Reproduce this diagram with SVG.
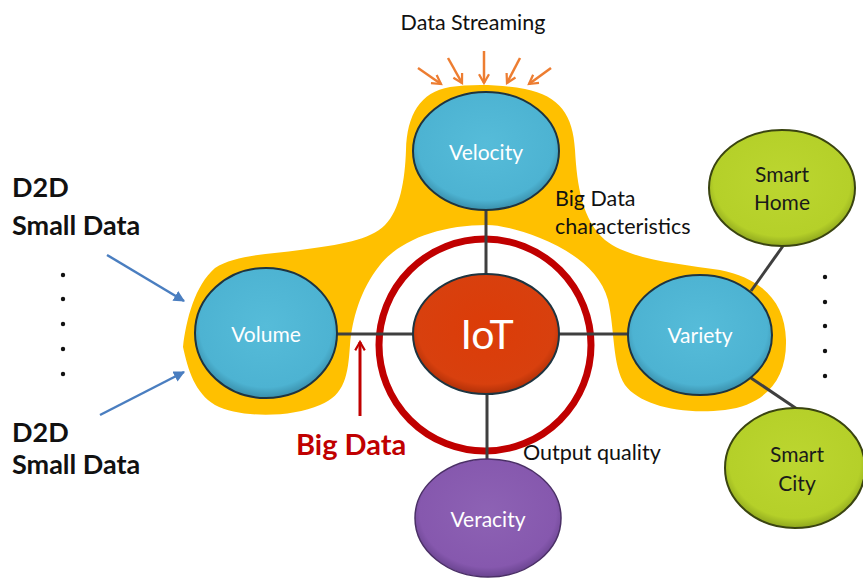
<svg xmlns="http://www.w3.org/2000/svg" width="863" height="578" viewBox="0 0 863 578">
<defs>
<radialGradient id="gBlue" cx="50%" cy="45%" r="55%">
<stop offset="0" stop-color="#56BCD9"/><stop offset="0.85" stop-color="#4DB3D2"/><stop offset="1" stop-color="#3A8FAB"/>
</radialGradient>
<radialGradient id="gRed" cx="50%" cy="45%" r="55%">
<stop offset="0" stop-color="#DC3C08"/><stop offset="0.85" stop-color="#D8400E"/><stop offset="1" stop-color="#B03008"/>
</radialGradient>
<radialGradient id="gGreen" cx="50%" cy="45%" r="55%">
<stop offset="0" stop-color="#BCD630"/><stop offset="0.85" stop-color="#B5D029"/><stop offset="1" stop-color="#8FA71E"/>
</radialGradient>
<radialGradient id="gPurple" cx="50%" cy="45%" r="55%">
<stop offset="0" stop-color="#8D62B4"/><stop offset="0.85" stop-color="#8658AE"/><stop offset="1" stop-color="#6A4490"/>
</radialGradient>
<marker id="aOr" viewBox="0 0 10 10" refX="8" refY="5" markerWidth="5" markerHeight="5" orient="auto"><path d="M1,1 L8,5 L1,9" fill="none" stroke="#ED7D31" stroke-width="1.8"/></marker>
<marker id="aBl" viewBox="0 0 10 10" refX="9" refY="5" markerWidth="4.5" markerHeight="4.5" orient="auto"><path d="M0,0 L10,5 L0,10 Z" fill="#4A7EC0"/></marker>
<marker id="aRd" viewBox="0 0 10 10" refX="8" refY="5" markerWidth="4" markerHeight="4" orient="auto"><path d="M1,1 L8,5 L1,9" fill="none" stroke="#C00000" stroke-width="1.8"/></marker>
</defs>
<style>
.node{stroke:#1E3440;stroke-width:2}
.lbl{font-family:Lato,"Open Sans",sans-serif;font-size:21px;fill:#FFFFFF;text-anchor:middle}
.dk{fill:#1A1A1A}
.t{font-family:Lato,"Open Sans",sans-serif;font-size:21.5px;fill:#111111}
.b{font-family:Lato,"Open Sans",sans-serif;font-size:27px;font-weight:bold;fill:#111111}
.con{stroke:#3F3F3F;stroke-width:3;fill:none}
.dot{fill:#111111}
</style>
<rect width="863" height="578" fill="#FFFFFF"/>
<path id="blob" fill="#FFC000" d="M183,347 C186,320 195,285 215,268 C235,255 270,254 300,250 C340,245 370,240 385,225 C400,210 405,180 406,150 C407,115 420,92 450,87 C470,84 500,84 525,89 C560,96 573,115 575,150 C577,185 582,220 605,240 C630,260 680,264 720,270 C760,278 785,300 786,340 C787,380 765,405 725,410 C680,415 640,405 625,385 C612,365 615,330 608,300 C600,270 570,250 540,238 C520,230 500,225 487,225 C440,225 400,240 380,265 C360,290 352,320 350,345 C348,375 345,395 320,405 C290,418 240,418 215,405 C195,393 188,370 183,347 Z"/>
<circle id="ring" cx="485" cy="345" r="106" fill="none" stroke="#C00000" stroke-width="7"/>
<g id="connectors">
<line class="con" x1="486" y1="210" x2="486" y2="275"/>
<line class="con" x1="487" y1="393" x2="487" y2="460"/>
<line class="con" x1="337" y1="334" x2="414" y2="334"/>
<line class="con" x1="558" y1="334" x2="628" y2="334"/>
<line class="con" x1="751" y1="291" x2="783" y2="246"/>
<line class="con" x1="751" y1="378" x2="797" y2="409"/>
</g>
<g id="streaming">
<text class="t" x="473" y="30" text-anchor="middle">Data Streaming</text>
<g stroke="#ED7D31" stroke-width="2.5" marker-end="url(#aOr)">
<line x1="418" y1="68" x2="441" y2="84"/>
<line x1="448" y1="58" x2="462" y2="83"/>
<line x1="484" y1="51" x2="484" y2="83"/>
<line x1="520" y1="58" x2="507" y2="83"/>
<line x1="551" y1="68" x2="529" y2="84"/>
</g>
</g>
<g id="velocity"><ellipse class="node" cx="486" cy="151" rx="73" ry="59" fill="url(#gBlue)"/><text class="lbl" x="486" y="160">Velocity</text></g>
<g id="volume"><ellipse class="node" cx="266" cy="333" rx="71" ry="65" fill="url(#gBlue)"/><text class="lbl" x="266" y="342">Volume</text></g>
<g id="iot"><ellipse class="node" cx="486" cy="334" rx="73" ry="60" fill="url(#gRed)"/><text class="lbl" x="487" y="349" style="font-size:41px">IoT</text></g>
<g id="variety"><ellipse class="node" cx="700" cy="335" rx="72" ry="60" fill="url(#gBlue)"/><text class="lbl" x="700" y="343">Variety</text></g>
<g id="veracity"><ellipse class="node" cx="488" cy="518" rx="73" ry="59" fill="url(#gPurple)" style="stroke:#4A2F66;stroke-width:1.5"/><text class="lbl" x="488" y="527">Veracity</text></g>
<g id="smarthome"><ellipse class="node" cx="782" cy="188" rx="73" ry="58" fill="url(#gGreen)" style="stroke:#3A4410"/><text class="lbl dk" x="782" y="182">Smart</text><text class="lbl dk" x="782" y="210">Home</text></g>
<g id="smartcity"><ellipse class="node" cx="795" cy="468" rx="70" ry="60" fill="url(#gGreen)" style="stroke:#3A4410"/><text class="lbl dk" x="797" y="462">Smart</text><text class="lbl dk" x="797" y="491">City</text></g>
<g id="bigdatachar"><text class="t" x="555" y="206">Big Data</text><text class="t" x="555" y="234">characteristics</text></g>
<g id="outputquality"><text class="t" x="523" y="460">Output quality</text></g>
<g id="bigdata">
<line x1="360" y1="416" x2="360" y2="342" stroke="#C00000" stroke-width="3" marker-end="url(#aRd)"/>
<text x="296" y="455" style="font-family:Lato,'Open Sans',sans-serif;font-size:29px;font-weight:bold;fill:#C00000">Big Data</text>
</g>
<g id="smalldata">
<text class="b" x="12" y="197">D2D</text>
<text class="b" x="12" y="235">Small Data</text>
<text class="b" x="12" y="442">D2D</text>
<text class="b" x="12" y="474">Small Data</text>
<line x1="107" y1="255" x2="184" y2="301" stroke="#4A7EC0" stroke-width="2.5" marker-end="url(#aBl)"/>
<line x1="100" y1="415" x2="184" y2="372" stroke="#4A7EC0" stroke-width="2.5" marker-end="url(#aBl)"/>
<circle class="dot" cx="63" cy="275" r="2.2"/><circle class="dot" cx="63" cy="299" r="2.2"/><circle class="dot" cx="63" cy="324" r="2.2"/><circle class="dot" cx="63" cy="349" r="2.2"/><circle class="dot" cx="63" cy="374" r="2.2"/>
</g>
<g id="rightdots">
<circle class="dot" cx="825" cy="277" r="2.2"/><circle class="dot" cx="825" cy="302" r="2.2"/><circle class="dot" cx="825" cy="326" r="2.2"/><circle class="dot" cx="825" cy="351" r="2.2"/><circle class="dot" cx="825" cy="376" r="2.2"/>
</g>
</svg>
